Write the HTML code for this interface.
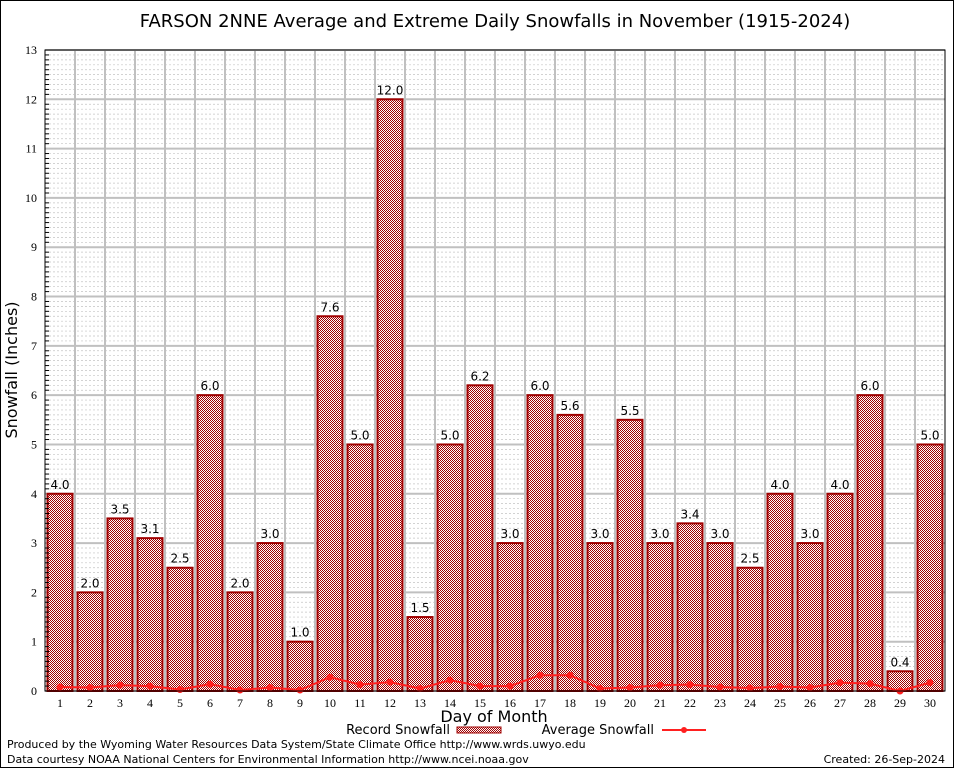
<!DOCTYPE html>
<html><head><meta charset="utf-8"><style>
body{margin:0;background:#fff;}
svg{display:block;font-family:"DejaVu Sans","Liberation Sans",sans-serif;}
</style></head><body>
<svg id="chart" width="954" height="768" xmlns="http://www.w3.org/2000/svg">
<defs>
<pattern id="chk" width="2" height="2" patternUnits="userSpaceOnUse">
<rect width="2" height="2" fill="#ffffff"/><rect width="1" height="1" fill="#a00000"/><rect x="1" y="1" width="1" height="1" fill="#a00000"/>
</pattern>
</defs>
<rect x="0.5" y="0.5" width="953" height="767" fill="#fff" stroke="#000"/>
<text x="495" y="27" font-size="18" text-anchor="middle">FARSON 2NNE Average and Extreme Daily Snowfalls in November (1915-2024)</text>
<g id="grid"></g>
<g id="bars"></g>
<g id="avg"></g>
<g id="axes"></g>
<text transform="translate(17,370) rotate(-90)" font-size="16" text-anchor="middle">Snowfall (Inches)</text>
<text x="494" y="722" font-size="16" text-anchor="middle">Day of Month</text>
<g>
<text x="450" y="734" font-size="13" text-anchor="end">Record Snowfall</text>
<rect x="457" y="727" width="44" height="6" fill="url(#chk)" stroke="#a00000"/>
<text x="654" y="734" font-size="13" text-anchor="end">Average Snowfall</text>
<line x1="662" y1="730" x2="706" y2="730" stroke="#ff2020" stroke-width="2"/>
<circle cx="684" cy="730" r="3" fill="#ff2020"/>
</g>
<text x="7" y="748" font-size="11">Produced by the Wyoming Water Resources Data System/State Climate Office http://www.wrds.uwyo.edu</text>
<text x="7" y="763" font-size="11">Data courtesy NOAA National Centers for Environmental Information http://www.ncei.noaa.gov</text>
<text x="945" y="763" font-size="11" text-anchor="end">Created: 26-Sep-2024</text>
</svg>
<script>
const days=[1,2,3,4,5,6,7,8,9,10,11,12,13,14,15,16,17,18,19,20,21,22,23,24,25,26,27,28,29,30];
const recordSnow=[4.0,2.0,3.5,3.1,2.5,6.0,2.0,3.0,1.0,7.6,5.0,12.0,1.5,5.0,6.2,3.0,6.0,5.6,3.0,5.5,3.0,3.4,3.0,2.5,4.0,3.0,4.0,6.0,0.4,5.0];
const avgSnow=[0.08,0.07,0.12,0.1,0.03,0.14,0.02,0.07,0.02,0.28,0.13,0.18,0.05,0.22,0.1,0.1,0.32,0.32,0.05,0.07,0.12,0.13,0.08,0.06,0.09,0.07,0.17,0.15,0.0,0.17];
const yTicks=[0,1,2,3,4,5,6,7,8,9,10,11,12,13];
const NS="http://www.w3.org/2000/svg";
const L=45,R=945,T=50,B=691,YMAX=13;
const bw=(R-L)/days.length;
const xc=d=>L+(d-0.5)*bw;
const y=v=>B-(v/YMAX)*(B-T);
function mk(tag,attrs,parent){const e=document.createElementNS(NS,tag);for(const k in attrs)e.setAttribute(k,attrs[k]);parent.appendChild(e);return e;}
const grid=document.getElementById('grid'),bars=document.getElementById('bars'),avg=document.getElementById('avg'),axes=document.getElementById('axes');
mk('rect',{x:L,y:T,width:R-L,height:B-T,fill:'#fff'},grid);
for(let i=1;i<YMAX*10;i++){if(i%10===0)continue;const l=mk('line',{x1:L,x2:R,y1:y(i/10),y2:y(i/10),stroke:'#c4c4c4','stroke-width':0.7,'stroke-dasharray':'2,2'},grid);


const tk=mk('line',{x1:L,x2:L+4,y1:y(i/10),y2:y(i/10),stroke:'#000','stroke-width':1},axes);

}
yTicks.forEach(t=>{const l=mk('line',{x1:L,x2:R,y1:y(t),y2:y(t),stroke:'#c0c0c0','stroke-width':2},grid);


const tx=mk('text',{x:L-8,y:y(t)+4,'font-size':12,'text-anchor':'end','font-family':'Liberation Serif,serif'},axes);tx.textContent=t;

});
for(let i=1;i<days.length;i++){const l=mk('line',{x1:L+i*bw,x2:L+i*bw,y1:T,y2:B,stroke:'#c0c0c0','stroke-width':2},grid);

}
days.forEach((d,i)=>{const v=recordSnow[i];
const r=mk('rect',{x:xc(d)-12.5,y:y(v),width:25,height:B-y(v),fill:'url(#chk)',stroke:'#a00000','stroke-width':2},bars);


const t=mk('text',{x:xc(d),y:y(v)-5,'font-size':12,'text-anchor':'middle'},bars);t.textContent=v.toFixed(1);


const xl=mk('text',{x:xc(d),y:B+16,'font-size':12,'text-anchor':'middle','font-family':'Liberation Serif,serif'},axes);xl.textContent=d;

});
const pl=mk('polyline',{points:days.map((d,i)=>xc(d)+','+y(avgSnow[i])).join(' '),fill:'none',stroke:'#ff2020','stroke-width':2},avg);


days.forEach((d,i)=>{const c=mk('circle',{cx:xc(d),cy:y(avgSnow[i]),r:3.5,fill:'#ff2020'},avg);

});
const fr=mk('rect',{x:L,y:T,width:R-L,height:B-T,fill:'none',stroke:'#000','stroke-width':1},axes);


</script>
</body></html>
